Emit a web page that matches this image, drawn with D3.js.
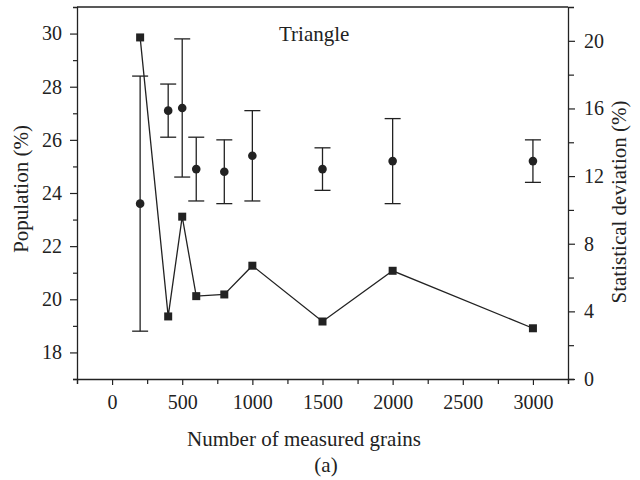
<!DOCTYPE html>
<html>
<head>
<meta charset="utf-8">
<script src="https://cdn.jsdelivr.net/npm/d3@7"></script>
<style>
  body { margin: 0; background: #fff; }
  svg text { font-family: "Liberation Serif", "Times New Roman", serif; fill: #222; }
</style>
</head>
<body>
<div id="chart"></div>
<script>
// data
var grains = [200, 400, 500, 600, 800, 1000, 1500, 2000, 3000];
var population = [23.6, 27.1, 27.2, 24.9, 24.8, 25.4, 24.9, 25.2, 25.2];
var popLow = [18.8, 26.1, 24.6, 23.7, 23.6, 23.7, 24.1, 23.6, 24.4];
var popHigh = [28.4, 28.1, 29.8, 26.1, 26.0, 27.1, 25.7, 26.8, 26.0];
var deviation = [20.2, 3.7, 9.6, 4.9, 5.0, 6.7, 3.4, 6.4, 3.0];

var xTicks = [0, 500, 1000, 1500, 2000, 2500, 3000];
var xMinor = [-250, 250, 750, 1250, 1750, 2250, 2750, 3250];
var leftTicks = [18, 20, 22, 24, 26, 28, 30];
var leftMinor = [17, 19, 21, 23, 25, 27, 29];
var rightTicks = [0, 4, 8, 12, 16, 20];
var rightMinor = [2, 6, 10, 14, 18];

var ink = '#222';

// plot box
var margin = {top: 7, right: 72, bottom: 101, left: 77},
    width = 640 - margin.left - margin.right,
    height = 480 - margin.top - margin.bottom;

var svg = d3.select('#chart').append('svg')
    .attr('width', 640)
    .attr('height', 480)
  .append('g')
    .attr('transform', 'translate(' + margin.left + ',' + margin.top + ')');

var x = d3.scaleLinear().domain([-250, 3250]).range([0, width]);
var yLeft = d3.scaleLinear().domain([17, 31]).range([height, 0]);
var yRight = d3.scaleLinear().domain([0, 22]).range([height, 0]);

function styleAxis(g, fontSize) {
    g.select('.domain').attr('stroke', ink).attr('stroke-width', 1.3);
    g.selectAll('.tick line').attr('stroke', ink).attr('stroke-width', 1.2);
    g.selectAll('.tick text')
        .attr('fill', ink)
        .style('font-size', fontSize + 'px')
        .style('font-family', '"Liberation Serif", "Times New Roman", serif');
}

// bottom axis
svg.append('g')
    .attr('transform', 'translate(0,' + height + ')')
    .call(d3.axisBottom(x).tickValues(xMinor).tickSize(5).tickFormat(''))
    .call(styleAxis, 20);
svg.append('g')
    .attr('transform', 'translate(0,' + height + ')')
    .call(d3.axisBottom(x).tickValues(xTicks).tickSize(6).tickPadding(10).tickFormat(d3.format('d')))
    .call(styleAxis, 20)
    .call(g => g.select('.domain').remove());

// left axis
svg.append('g')
    .call(d3.axisLeft(yLeft).tickValues(leftMinor).tickSize(4).tickFormat(''))
    .call(styleAxis, 20);
svg.append('g')
    .call(d3.axisLeft(yLeft).tickValues(leftTicks).tickSize(7).tickPadding(8).tickFormat(d3.format('d')))
    .call(styleAxis, 20)
    .call(g => g.select('.domain').remove());

// right axis
svg.append('g')
    .attr('transform', 'translate(' + width + ',0)')
    .call(d3.axisRight(yRight).tickValues(rightMinor).tickSize(6).tickFormat(''))
    .call(styleAxis, 20);
svg.append('g')
    .attr('transform', 'translate(' + width + ',0)')
    .call(d3.axisRight(yRight).tickValues(rightTicks).tickSize(7).tickPadding(9).tickFormat(d3.format('d')))
    .call(styleAxis, 20)
    .call(g => g.select('.domain').remove());

// top frame line
svg.append('line')
    .attr('x1', 0).attr('x2', width)
    .attr('y1', 0).attr('y2', 0)
    .attr('stroke', ink).attr('stroke-width', 1.3);

// error bars for population
var capHalf = 8;
var bars = svg.append('g').selectAll('g')
    .data(grains.map((g, i) => ({g: g, lo: popLow[i], hi: popHigh[i], v: population[i]})))
    .enter().append('g');
bars.append('line')
    .attr('x1', d => x(d.g)).attr('x2', d => x(d.g))
    .attr('y1', d => yLeft(d.lo)).attr('y2', d => yLeft(d.hi))
    .attr('stroke', ink).attr('stroke-width', 1.3);
bars.append('line')
    .attr('x1', d => x(d.g) - capHalf).attr('x2', d => x(d.g) + capHalf)
    .attr('y1', d => yLeft(d.hi)).attr('y2', d => yLeft(d.hi))
    .attr('stroke', ink).attr('stroke-width', 1.3);
bars.append('line')
    .attr('x1', d => x(d.g) - capHalf).attr('x2', d => x(d.g) + capHalf)
    .attr('y1', d => yLeft(d.lo)).attr('y2', d => yLeft(d.lo))
    .attr('stroke', ink).attr('stroke-width', 1.3);
bars.append('circle')
    .attr('cx', d => x(d.g)).attr('cy', d => yLeft(d.v))
    .attr('r', 4.3)
    .attr('fill', ink);

// deviation line with squares
var devData = grains.map((g, i) => [g, deviation[i]]);
svg.append('path')
    .datum(devData)
    .attr('fill', 'none')
    .attr('stroke', ink)
    .attr('stroke-width', 1.3)
    .attr('d', d3.line().x(d => x(d[0])).y(d => yRight(d[1])));
var sq = 8;
svg.append('g').selectAll('rect')
    .data(devData)
    .enter().append('rect')
    .attr('x', d => x(d[0]) - sq / 2)
    .attr('y', d => yRight(d[1]) - sq / 2)
    .attr('width', sq).attr('height', sq)
    .attr('fill', ink);

// labels
svg.append('text')
    .attr('x', 202).attr('y', 34)
    .style('font-size', '21px')
    .text('Triangle');

svg.append('text')
    .attr('x', 227).attr('y', 439)
    .attr('text-anchor', 'middle')
    .style('font-size', '21px')
    .text('Number of measured grains');

svg.append('text')
    .attr('x', 249).attr('y', 465)
    .attr('text-anchor', 'middle')
    .style('font-size', '21px')
    .text('(a)');

svg.append('text')
    .attr('transform', 'translate(-49,' + 182 + ') rotate(-90)')
    .attr('text-anchor', 'middle')
    .style('font-size', '21px')
    .text('Population (%)');

svg.append('text')
    .attr('transform', 'translate(' + (width + 58) + ',' + 195 + ') rotate(-90)')
    .attr('text-anchor', 'middle')
    .style('font-size', '21px')
    .text('Statistical deviation (%)');
</script>
</body>
</html>
